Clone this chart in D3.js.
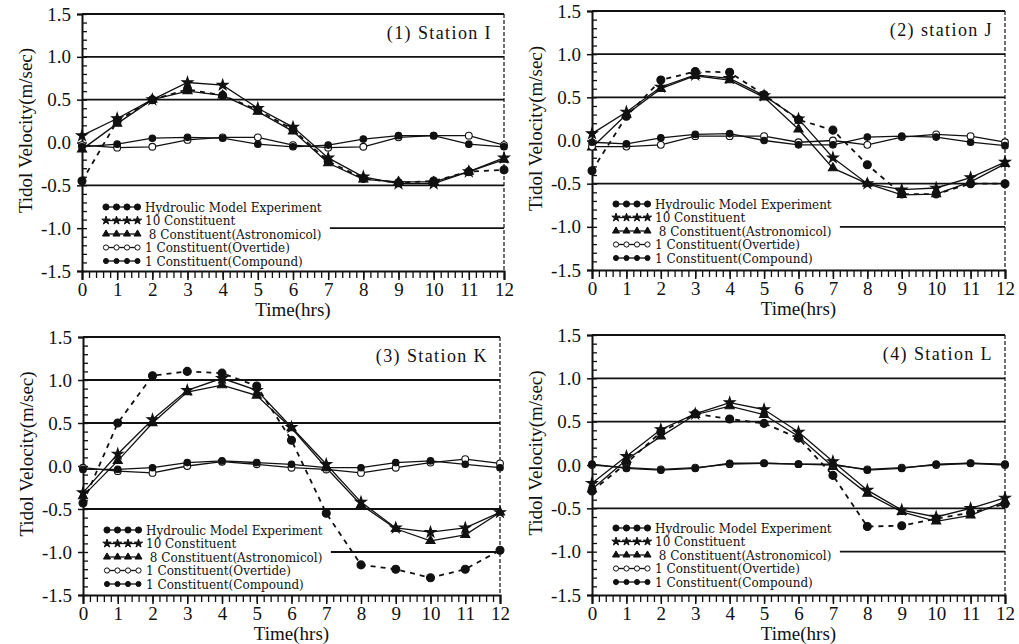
<!DOCTYPE html>
<html>
<head>
<meta charset="utf-8">
<script src="https://cdn.jsdelivr.net/npm/d3@7"></script>
<style>
body { margin: 0; background: #fff; }
text { fill: #111; }
</style>
</head>
<body>
<div id="chart"></div>
<script>
// x categories (hours) and y tick labels
const hours = [0, 1, 2, 3, 4, 5, 6, 7, 8, 9, 10, 11, 12];
const yTicks = [-1.5, -1.0, -0.5, 0.0, 0.5, 1.0, 1.5];
const yTickLabels = ["-1.5", "-1.0", "-0.5", "0.0", "0.5", "1.0", "1.5"];
const gridValues = [1.0, 0.5, -0.5];
const stationTitles = ["(1) Station I", "(2) station J", "(3) Station K", "(4) Station L"];
const legendNames = [
    "Hydroulic Model Experiment",
    "10 Constituent",
    " 8 Constituent(Astronomicol)",
    "1 Constituent(Overtide)",
    "1 Constituent(Compound)"
];

// station I
const expI   = [-0.45, 0.25, 0.50, 0.62, 0.55, 0.38, 0.15, -0.22, -0.42, -0.47, -0.45, -0.34, -0.32];
const tenI   = [0.08, 0.28, 0.50, 0.70, 0.67, 0.40, 0.18, -0.18, -0.40, -0.48, -0.48, -0.34, -0.18];
const eightI = [-0.08, 0.22, 0.50, 0.60, 0.55, 0.36, 0.13, -0.24, -0.43, -0.46, -0.46, -0.34, -0.20];
const overI  = [-0.03, -0.06, -0.05, 0.03, 0.06, 0.06, -0.03, -0.06, -0.05, 0.06, 0.08, 0.08, -0.03];
const compI  = [-0.05, -0.02, 0.05, 0.06, 0.05, -0.02, -0.05, -0.03, 0.04, 0.08, 0.08, -0.02, -0.05];

// station J
const expJ   = [-0.35, 0.28, 0.70, 0.80, 0.79, 0.53, 0.24, 0.12, -0.28, -0.62, -0.62, -0.50, -0.50];
const tenJ   = [0.08, 0.33, 0.62, 0.76, 0.72, 0.52, 0.25, -0.20, -0.50, -0.57, -0.55, -0.43, -0.25];
const eightJ = [-0.08, 0.30, 0.60, 0.75, 0.70, 0.50, 0.13, -0.32, -0.50, -0.63, -0.62, -0.48, -0.27];
const overJ  = [-0.07, -0.07, -0.05, 0.05, 0.05, 0.05, -0.02, 0.00, -0.05, 0.04, 0.07, 0.05, -0.02];
const compJ  = [-0.02, -0.04, 0.03, 0.07, 0.08, 0.00, -0.05, -0.05, 0.04, 0.05, 0.04, -0.02, -0.06];

// station K
const expK   = [-0.43, 0.50, 1.05, 1.10, 1.08, 0.93, 0.30, -0.55, -1.15, -1.20, -1.30, -1.20, -0.98];
const tenK   = [-0.31, 0.14, 0.54, 0.88, 1.02, 0.88, 0.45, 0.02, -0.42, -0.72, -0.77, -0.72, -0.54];
const eightK = [-0.35, 0.06, 0.50, 0.86, 0.94, 0.82, 0.44, -0.02, -0.45, -0.73, -0.87, -0.80, -0.54];
const overK  = [-0.02, -0.06, -0.08, 0.00, 0.05, 0.02, -0.02, -0.04, -0.08, -0.02, 0.04, 0.08, 0.03];
const compK  = [-0.04, -0.04, -0.02, 0.04, 0.06, 0.04, 0.02, -0.02, -0.02, 0.04, 0.06, 0.02, -0.02];

// station L
const expL   = [-0.30, 0.02, 0.38, 0.59, 0.53, 0.48, 0.31, -0.12, -0.71, -0.70, -0.62, -0.55, -0.45];
const tenL   = [-0.21, 0.10, 0.41, 0.59, 0.72, 0.64, 0.38, 0.04, -0.29, -0.52, -0.60, -0.50, -0.38];
const eightL = [-0.28, 0.06, 0.33, 0.58, 0.68, 0.58, 0.33, -0.02, -0.33, -0.54, -0.65, -0.58, -0.42];
const overL  = [0.00, -0.03, -0.05, -0.03, 0.01, 0.02, 0.01, 0.00, -0.05, -0.03, 0.00, 0.02, 0.00];
const compL  = [0.01, -0.04, -0.06, -0.04, 0.02, 0.02, 0.01, 0.01, -0.06, -0.04, 0.01, 0.02, 0.01];

const stationSeries = [
    [expI, tenI, eightI, overI, compI],
    [expJ, tenJ, eightJ, overJ, compJ],
    [expK, tenK, eightK, overK, compK],
    [expL, tenL, eightL, overL, compL]
];

// where each panel sits on the page
const panels = [
    {left: 82,  right: 504,  top: 14,  bottom: 271},
    {left: 592, right: 1005, top: 11,  bottom: 270},
    {left: 83,  right: 500,  top: 337, bottom: 595},
    {left: 592, right: 1005, top: 335, bottom: 595}
];

// marker look for each series
const markers = [
    {type: d3.symbolCircle,   size: 50, fill: "#111", dash: "5,5", width: 1.8},
    {type: d3.symbolStar,     size: 36, fill: "#111", dash: null,  width: 1.3},
    {type: d3.symbolTriangle, size: 36, fill: "#111", dash: null,  width: 1.3},
    {type: d3.symbolCircle,   size: 36, fill: "#fff", dash: null,  width: 1.3},
    {type: d3.symbolCircle,   size: 34, fill: "#111", dash: null,  width: 1.3}
];

const AXIS_FONT = '"Liberation Serif", "Times New Roman", serif';
const LEGEND_FONT = '"DejaVu Serif", serif';

var svg = d3.select("#chart").append("svg")
    .attr("width", 1019)
    .attr("height", 644);

panels.forEach(function(p, k) {
    drawPanel(p, stationTitles[k], stationSeries[k]);
});

function drawPanel(p, title, series) {
    var x = d3.scaleLinear().domain([0, 12]).range([p.left, p.right]);
    var y = d3.scaleLinear().domain([-1.5, 1.5]).range([p.bottom, p.top]);
    var g = svg.append("g");

    // full width gridlines
    g.selectAll(".grid")
        .data(gridValues)
        .enter()
        .append("line")
            .attr("x1", p.left).attr("x2", p.right)
            .attr("y1", d => y(d)).attr("y2", d => y(d))
            .attr("stroke", "#111").attr("stroke-width", 1.8);

    // legend text first, so we know where the -1.0 gridline starts
    var lg = g.append("g");
    var rowY = function(i) { return p.top + 193 + i * 13.5; };
    var texts = lg.selectAll("text")
        .data(legendNames)
        .enter()
        .append("text")
            .style("font-family", LEGEND_FONT)
            .style("font-size", "12px")
            .attr("x", p.left + 63)
            .attr("y", (d, i) => rowY(i) + 4.5)
            .attr("xml:space", "preserve")
            .text(d => d);
    var textEnd = 0;
    texts.each(function() {
        var b = this.getBBox();
        textEnd = Math.max(textEnd, b.x + b.width);
    });

    // -1.0 gridline only right of the legend
    g.append("line")
        .attr("x1", textEnd + 8).attr("x2", p.right)
        .attr("y1", y(-1.0)).attr("y2", y(-1.0))
        .attr("stroke", "#111").attr("stroke-width", 1.8);

    // legend samples
    markers.forEach(function(m, i) {
        var xs = [p.left + 24, p.left + 34.5, p.left + 45, p.left + 55.5];
        lg.append("line")
            .attr("x1", xs[0]).attr("x2", xs[3])
            .attr("y1", rowY(i)).attr("y2", rowY(i))
            .attr("stroke", "#111").attr("stroke-width", 1.3);
        lg.selectAll(".m" + i)
            .data(xs)
            .enter()
            .append("path")
                .attr("d", d3.symbol().type(m.type).size(m.size * 0.6))
                .attr("transform", d => "translate(" + d + "," + rowY(i) + ")")
                .attr("fill", m.fill)
                .attr("stroke", "#111").attr("stroke-width", 1);
    });

    // top border and dashed right border
    g.append("line")
        .attr("x1", p.left).attr("x2", p.right)
        .attr("y1", p.top).attr("y2", p.top)
        .attr("stroke", "#111").attr("stroke-width", 1.8);
    g.append("line")
        .attr("x1", p.right).attr("x2", p.right)
        .attr("y1", p.top).attr("y2", p.bottom)
        .attr("stroke", "#111").attr("stroke-width", 1.2)
        .attr("stroke-dasharray", "4,2");

    // x axis: minor ticks then major ticks with labels
    g.append("g")
        .attr("transform", "translate(0," + p.bottom + ")")
        .call(d3.axisBottom(x).ticks(60).tickSize(7).tickFormat(""))
        .call(a => a.select(".domain").remove())
        .call(a => a.selectAll("line").attr("stroke", "#111").attr("stroke-width", 1.3));
    g.append("g")
        .attr("transform", "translate(0," + p.bottom + ")")
        .call(d3.axisBottom(x).tickValues(hours).tickSize(9).tickPadding(3).tickFormat(d3.format("d")))
        .call(a => a.select(".domain").attr("stroke", "#111").attr("stroke-width", 2))
        .call(a => a.selectAll("line").attr("stroke", "#111").attr("stroke-width", 1.5))
        .call(a => a.selectAll("text")
            .style("font-family", AXIS_FONT).style("font-size", "19px").attr("fill", "#111"));

    // y axis: inward minor ticks, major ticks crossing the axis
    g.append("g")
        .attr("transform", "translate(" + p.left + ",0)")
        .call(d3.axisRight(y).ticks(30).tickSize(5).tickFormat(""))
        .call(a => a.select(".domain").remove())
        .call(a => a.selectAll("line").attr("stroke", "#111").attr("stroke-width", 1.3));
    g.append("g")
        .attr("transform", "translate(" + p.left + ",0)")
        .call(d3.axisLeft(y).tickValues(yTicks).tickSize(5).tickPadding(6)
            .tickFormat((d, i) => yTickLabels[i]))
        .call(a => a.select(".domain").attr("stroke", "#111").attr("stroke-width", 2))
        .call(a => a.selectAll("line").attr("stroke", "#111").attr("stroke-width", 1.5))
        .call(a => a.selectAll("text")
            .style("font-family", AXIS_FONT).style("font-size", "19px").attr("fill", "#111"));

    // axis titles
    g.append("text")
        .style("font-family", AXIS_FONT).style("font-size", "19px")
        .attr("x", (p.left + p.right) / 2)
        .attr("y", p.bottom + 45)
        .attr("text-anchor", "middle")
        .text("Time(hrs)");
    g.append("text")
        .style("font-family", AXIS_FONT).style("font-size", "19px")
        .attr("transform", "translate(" + (p.left - 50) + "," + ((p.top + p.bottom) / 2 - 12) + ") rotate(-90)")
        .attr("text-anchor", "middle")
        .text("Tidol Velocity(m/sec)");

    // station label
    g.append("text")
        .style("font-family", AXIS_FONT).style("font-size", "18px")
        .attr("x", p.right - 12)
        .attr("y", p.top + 25)
        .attr("text-anchor", "end")
        .attr("letter-spacing", 1.4)
        .text(title);

    // the five series
    var line = d3.line().x((d, i) => x(hours[i])).y(d => y(d));
    series.forEach(function(vals, s) {
        var m = markers[s];
        g.append("path")
            .attr("d", line(vals))
            .attr("fill", "none")
            .attr("stroke", "#111")
            .attr("stroke-width", m.width)
            .attr("stroke-dasharray", m.dash);
        g.append("g")
            .selectAll("path")
            .data(vals)
            .enter()
            .append("path")
                .attr("d", d3.symbol().type(m.type).size(m.size))
                .attr("transform", (d, i) => "translate(" + x(hours[i]) + "," + y(d) + ")")
                .attr("fill", m.fill)
                .attr("stroke", "#111").attr("stroke-width", 1.1);
    });
}
</script>
</body>
</html>
